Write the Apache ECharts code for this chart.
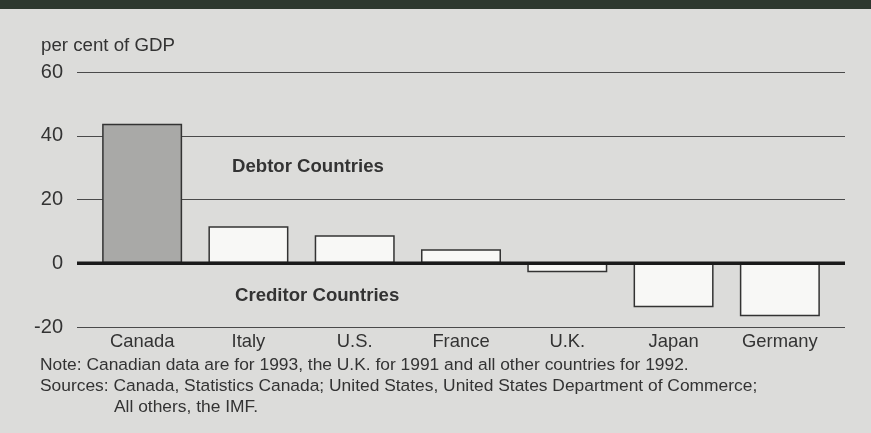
<!DOCTYPE html>
<html>
<head>
<meta charset="utf-8">
<script src="https://cdn.jsdelivr.net/npm/echarts@6/dist/echarts.min.js"></script>
<style>
  html, body { margin: 0; padding: 0; background: #dcdcda; }
  #chart { width: 871px; height: 433px; }
</style>
</head>
<body>
<div id="chart"></div>
<script>
const countries = ["Canada", "Italy", "U.S.", "France", "U.K.", "Japan", "Germany"];
const debtValues = [43.8, 11.6, 8.8, 4.4, -2.8, -13.8, -16.6];
const barColors = ["#a9a9a7", "#f8f8f6", "#f8f8f6", "#f8f8f6", "#f8f8f6", "#f8f8f6", "#f8f8f6"];
const yTicks = [-20, 0, 20, 40, 60];

const fontFam = "'Liberation Sans', Arial, sans-serif";
const textCol = "#333";

const chart = echarts.init(document.getElementById("chart"));

const option = {
  backgroundColor: "#dcdcda",
  animation: false,
  grid: [
    // grid for the horizontal lines and tick labels
    { left: 77, right: 26, top: 72, bottom: 106 },
    // grid for the bars
    { left: 89, right: 38, top: 72, bottom: 106 }
  ],
  xAxis: [
    { type: "value", gridIndex: 0, show: false, min: 0, max: 1 },
    {
      type: "category",
      gridIndex: 1,
      data: countries,
      axisLine: { show: false },
      axisTick: { show: false },
      axisLabel: {
        margin: 6,
        color: textCol,
        fontSize: 18.4,
        fontFamily: fontFam
      }
    }
  ],
  yAxis: [
    {
      type: "value",
      gridIndex: 0,
      min: yTicks[0],
      max: yTicks[yTicks.length - 1],
      interval: 20,
      axisLine: { show: false },
      axisTick: { show: false },
      axisLabel: {
        margin: 14,
        color: textCol,
        fontSize: 20,
        fontFamily: fontFam,
        padding: [5, 0, 0, 0]
      },
      splitLine: { lineStyle: { color: "#4a4a4a", width: 1.2 } }
    },
    {
      type: "value",
      gridIndex: 1,
      min: yTicks[0],
      max: yTicks[yTicks.length - 1],
      interval: 20,
      show: false
    }
  ],
  series: [
    {
      type: "bar",
      xAxisIndex: 1,
      yAxisIndex: 1,
      barWidth: 80,
      data: debtValues.map((v, i) => ({
        value: v,
        itemStyle: { color: barColors[i] }
      })),
      itemStyle: { borderColor: "#333", borderWidth: 1.5 },
      z: 3
    },
    {
      // thick zero line
      type: "line",
      xAxisIndex: 0,
      yAxisIndex: 0,
      data: [[0, 0], [1, 0]],
      symbol: "none",
      lineStyle: { color: "#1a1a1a", width: 3.5 },
      z: 5
    }
  ],
  graphic: [
    {
      type: "rect",
      left: 0, top: 0,
      shape: { width: 871, height: 9 },
      style: { fill: "#2e382f" }
    },
    {
      type: "text", left: 41, top: 36,
      style: { text: "per cent of GDP", fill: textCol, font: "18.7px " + fontFam }
    },
    {
      type: "text", left: 232, top: 157,
      style: { text: "Debtor Countries", fill: textCol, font: "bold 18.6px " + fontFam }
    },
    {
      type: "text", left: 235, top: 286,
      style: { text: "Creditor Countries", fill: textCol, font: "bold 18.6px " + fontFam }
    },
    {
      type: "text", left: 40, top: 357,
      style: { text: "Note: Canadian data are for 1993, the U.K. for 1991 and all other countries for 1992.", fill: textCol, font: "17.4px " + fontFam }
    },
    {
      type: "text", left: 40, top: 378,
      style: { text: "Sources: Canada, Statistics Canada; United States, United States Department of Commerce;", fill: textCol, font: "17.4px " + fontFam }
    },
    {
      type: "text", left: 114, top: 399,
      style: { text: "All others, the IMF.", fill: textCol, font: "17.4px " + fontFam }
    }
  ]
};

chart.setOption(option);
</script>
</body>
</html>
